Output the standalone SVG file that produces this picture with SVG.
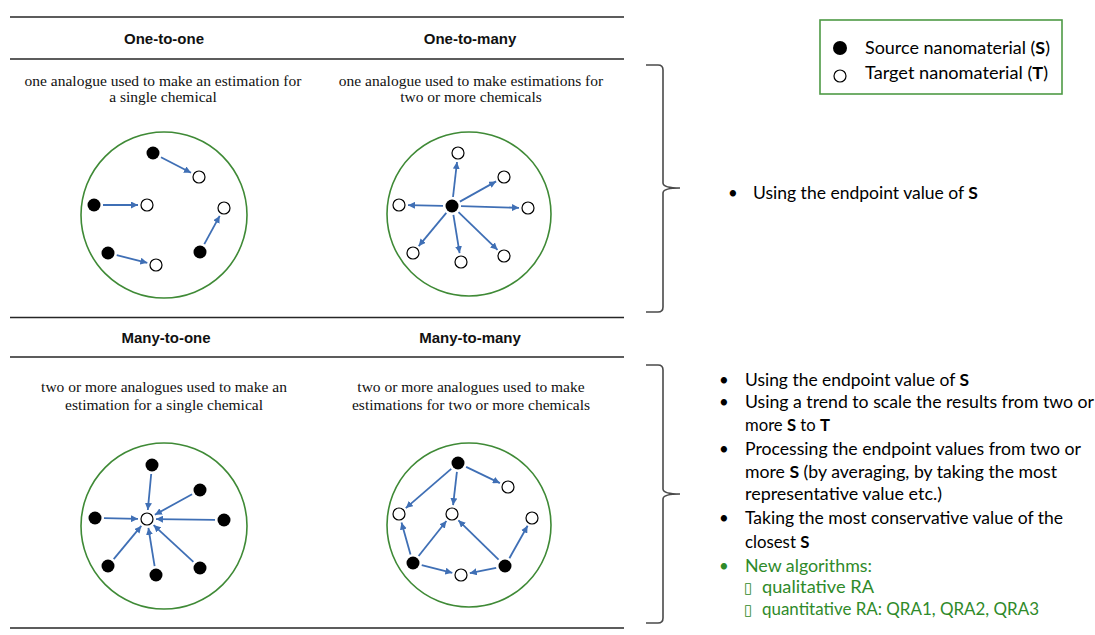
<svg xmlns="http://www.w3.org/2000/svg" width="1095" height="635" viewBox="0 0 1095 635">
  <style>
    .rule { stroke: #262626; stroke-width: 1.6; fill: none; }
    .brace { stroke: #4a4a4a; stroke-width: 1.6; fill: none; }
    .ring { fill: none; stroke: #3f8a36; stroke-width: 1.6; }
    .src { fill: #000; }
    .tgt { fill: #fff; stroke: #000; stroke-width: 1.2; }
    .arrow { stroke: #3f6fb5; stroke-width: 1.8; fill: none; marker-end: url(#head); }
    .hdr { font-family: "Liberation Sans", Arial, sans-serif; font-weight: bold; font-size: 15px; fill: #111; text-anchor: middle; }
    .desc { font-family: "Liberation Serif", "Times New Roman", serif; font-size: 15.5px; fill: #111; text-anchor: middle; }
    .body { font-family: Lato, "Liberation Sans", sans-serif; font-size: 16.8px; fill: #000; }
    .green { fill: #2f8a2a; }
    .b { font-weight: bold; }
    .box { font-family: "DejaVu Sans", sans-serif; font-size: 15px; }
  </style>
  <defs>
    <marker id="head" markerUnits="userSpaceOnUse" markerWidth="8" markerHeight="7" refX="7" refY="3.5" orient="auto">
      <path d="M0,0 L7,3.5 L0,7 z" fill="#3f6fb5"/>
    </marker>
  </defs>

  <rect width="1095" height="635" fill="#fff"/>

  <!-- table rules -->
  <g id="rules">
    <line class="rule" x1="10" y1="17" x2="624" y2="17"/>
    <line class="rule" x1="10" y1="59" x2="624" y2="59"/>
    <line class="rule" x1="10" y1="317.5" x2="624" y2="317.5"/>
    <line class="rule" x1="10" y1="357" x2="624" y2="357"/>
    <line class="rule" x1="10" y1="628" x2="624" y2="628"/>
  </g>

  <!-- column headers and descriptions -->
  <g id="headers">
    <text class="hdr" x="164" y="44">One-to-one</text>
    <text class="hdr" x="470" y="44">One-to-many</text>
    <text class="hdr" x="166" y="343">Many-to-one</text>
    <text class="hdr" x="470" y="343">Many-to-many</text>
  </g>
  <g id="descriptions">
    <text class="desc" x="163" y="86">one analogue used to make an estimation for</text>
    <text class="desc" x="163" y="102">a single chemical</text>
    <text class="desc" x="471" y="86">one analogue used to make estimations for</text>
    <text class="desc" x="471" y="102">two or more chemicals</text>
    <text class="desc" x="164" y="392">two or more analogues used to make an</text>
    <text class="desc" x="164" y="410">estimation for a single chemical</text>
    <text class="desc" x="471" y="392">two or more analogues used to make</text>
    <text class="desc" x="471" y="410">estimations for two or more chemicals</text>
  </g>

  <!-- one-to-one -->
  <g id="one-to-one">
    <circle class="ring" cx="164" cy="215" r="83"/>
    <circle class="src" cx="153" cy="153" r="6.5"/>
    <circle class="tgt" cx="199" cy="177" r="6"/>
    <circle class="src" cx="94" cy="205" r="6.5"/>
    <circle class="tgt" cx="147" cy="205" r="6"/>
    <circle class="tgt" cx="224" cy="208" r="6"/>
    <circle class="src" cx="200" cy="252" r="6.5"/>
    <circle class="src" cx="108" cy="253" r="6.5"/>
    <circle class="tgt" cx="156" cy="265" r="6"/>
  </g>

  <!-- one-to-many -->
  <g id="one-to-many">
    <circle class="ring" cx="469" cy="214" r="82"/>
    <circle class="src" cx="452" cy="206" r="6.5"/>
    <circle class="tgt" cx="458" cy="153" r="6"/>
    <circle class="tgt" cx="504" cy="177" r="6"/>
    <circle class="tgt" cx="528" cy="208" r="6"/>
    <circle class="tgt" cx="504" cy="256" r="6"/>
    <circle class="tgt" cx="461" cy="262" r="6"/>
    <circle class="tgt" cx="413" cy="253" r="6"/>
    <circle class="tgt" cx="399" cy="205" r="6"/>
  </g>

  <!-- many-to-one -->
  <g id="many-to-one">
    <circle class="ring" cx="164" cy="526" r="83"/>
    <circle class="tgt" cx="147" cy="519" r="6"/>
    <circle class="src" cx="152" cy="465" r="6.5"/>
    <circle class="src" cx="200" cy="490" r="6.5"/>
    <circle class="src" cx="95" cy="518" r="6.5"/>
    <circle class="src" cx="224" cy="520" r="6.5"/>
    <circle class="src" cx="200" cy="568" r="6.5"/>
    <circle class="src" cx="156" cy="575" r="6.5"/>
    <circle class="src" cx="108" cy="566" r="6.5"/>
  </g>

  <!-- many-to-many -->
  <g id="many-to-many">
    <circle class="ring" cx="469" cy="525" r="82"/>
    <circle class="src" cx="458" cy="463" r="6.5"/>
    <circle class="src" cx="413" cy="563" r="6.5"/>
    <circle class="src" cx="505" cy="566" r="6.5"/>
    <circle class="tgt" cx="508" cy="487" r="6"/>
    <circle class="tgt" cx="399" cy="514" r="6"/>
    <circle class="tgt" cx="452" cy="514" r="6"/>
    <circle class="tgt" cx="532" cy="518" r="6"/>
    <circle class="tgt" cx="461" cy="575" r="6"/>
  </g>

  <!-- connectors: source to target -->
  <g id="connectors">
    <line class="arrow" x1="161" y1="157.2" x2="191" y2="172.8"/>
    <line class="arrow" x1="103" y1="205" x2="138" y2="205"/>
    <line class="arrow" x1="204.3" y1="244.1" x2="219.7" y2="215.9"/>
    <line class="arrow" x1="116.7" y1="255.2" x2="147.3" y2="262.8"/>

    <line class="arrow" x1="453" y1="197" x2="457" y2="162"/>
    <line class="arrow" x1="459.9" y1="201.6" x2="496.1" y2="181.4"/>
    <line class="arrow" x1="461" y1="206.2" x2="519" y2="207.8"/>
    <line class="arrow" x1="458.5" y1="212.2" x2="497.5" y2="249.8"/>
    <line class="arrow" x1="453.4" y1="214.9" x2="459.6" y2="253.1"/>
    <line class="arrow" x1="446.3" y1="212.9" x2="418.7" y2="246.1"/>
    <line class="arrow" x1="443" y1="205.8" x2="408" y2="205.2"/>

    <line class="arrow" x1="151.2" y1="474" x2="147.8" y2="510"/>
    <line class="arrow" x1="192.1" y1="494.3" x2="154.9" y2="514.7"/>
    <line class="arrow" x1="104" y1="518.2" x2="138" y2="518.8"/>
    <line class="arrow" x1="215" y1="519.9" x2="156" y2="519.1"/>
    <line class="arrow" x1="193.4" y1="561.9" x2="153.6" y2="525.1"/>
    <line class="arrow" x1="154.6" y1="566.1" x2="148.4" y2="527.9"/>
    <line class="arrow" x1="113.7" y1="559.1" x2="141.3" y2="525.9"/>

    <line class="arrow" x1="451.2" y1="468.9" x2="405.8" y2="508.1"/>
    <line class="arrow" x1="456.9" y1="471.9" x2="453.1" y2="505.1"/>
    <line class="arrow" x1="466.1" y1="466.9" x2="499.9" y2="483.1"/>
    <line class="arrow" x1="410.5" y1="554.4" x2="401.5" y2="522.6"/>
    <line class="arrow" x1="418.6" y1="556" x2="446.4" y2="521"/>
    <line class="arrow" x1="421.7" y1="565.2" x2="452.3" y2="572.8"/>
    <line class="arrow" x1="498.6" y1="559.7" x2="458.4" y2="520.3"/>
    <line class="arrow" x1="509.4" y1="558.2" x2="527.6" y2="525.8"/>
    <line class="arrow" x1="496.2" y1="567.8" x2="469.8" y2="573.2"/>
  </g>

  <!-- braces -->
  <g id="braces">
    <path class="brace" d="M646,65 L658,65 Q663,65 663,70 L663,183 Q663,188 680,188 Q663,188 663,193 L663,307 Q663,312 658,312 L646,312"/>
    <path class="brace" d="M646,365 L658,365 Q663,365 663,370 L663,489 Q663,494 680,494 Q663,494 663,499 L663,618 Q663,623 658,623 L646,623"/>
  </g>

  <!-- legend -->
  <g id="legend">
    <rect x="820" y="20" width="242" height="74" fill="#fff" stroke="#4e9a45" stroke-width="1.6"/>
    <circle class="src" cx="840" cy="48" r="7"/>
    <circle class="tgt" cx="840" cy="76" r="6"/>
    <text class="body" x="865" y="54" textLength="185" lengthAdjust="spacingAndGlyphs">Source nanomaterial (<tspan class="b">S</tspan>)</text>
    <text class="body" x="865" y="79" textLength="183" lengthAdjust="spacingAndGlyphs">Target nanomaterial (<tspan class="b">T</tspan>)</text>
  </g>

  <!-- approaches for one source -->
  <g id="notes-top">
    <text class="body" x="728" y="199">•</text>
    <text class="body" x="753" y="199" textLength="225" lengthAdjust="spacingAndGlyphs">Using the endpoint value of <tspan class="b">S</tspan></text>
  </g>

  <!-- approaches for several sources -->
  <g id="notes-bottom">
    <text class="body" x="719" y="386">•</text>
    <text class="body" x="745" y="386" textLength="224" lengthAdjust="spacingAndGlyphs">Using the endpoint value of <tspan class="b">S</tspan></text>
    <text class="body" x="719" y="408">•</text>
    <text class="body" x="745" y="408" textLength="349" lengthAdjust="spacingAndGlyphs">Using a trend to scale the results from two or</text>
    <text class="body" x="745" y="431" textLength="85" lengthAdjust="spacingAndGlyphs">more <tspan class="b">S</tspan> to <tspan class="b">T</tspan></text>
    <text class="body" x="719" y="455">•</text>
    <text class="body" x="745" y="455" textLength="336" lengthAdjust="spacingAndGlyphs">Processing the endpoint values from two or</text>
    <text class="body" x="745" y="477.5" textLength="312" lengthAdjust="spacingAndGlyphs">more <tspan class="b">S</tspan> (by averaging, by taking the most</text>
    <text class="body" x="745" y="500" textLength="197" lengthAdjust="spacingAndGlyphs">representative value etc.)</text>
    <text class="body" x="719" y="523.5">•</text>
    <text class="body" x="745" y="523.5" textLength="318" lengthAdjust="spacingAndGlyphs">Taking the most conservative value of the</text>
    <text class="body" x="745" y="548">closest <tspan class="b">S</tspan></text>
    <text class="body green" x="719" y="572">•</text>
    <text class="body green" x="745" y="572" textLength="127" lengthAdjust="spacingAndGlyphs">New algorithms:</text>
    <text class="body green box" x="744" y="593">▯</text>
    <text class="body green" x="762" y="593" textLength="112" lengthAdjust="spacingAndGlyphs">qualitative RA</text>
    <text class="body green box" x="744" y="615">▯</text>
    <text class="body green" x="762" y="615" textLength="277" lengthAdjust="spacingAndGlyphs">quantitative RA: QRA1, QRA2, QRA3</text>
  </g>
</svg>
